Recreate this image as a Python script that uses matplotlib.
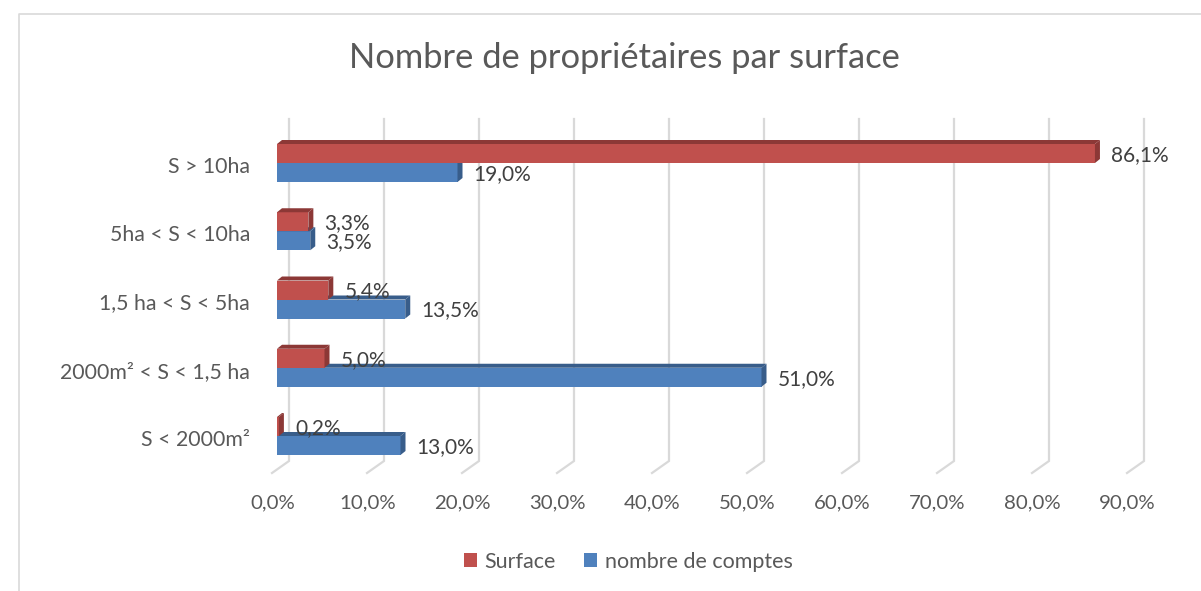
import matplotlib
matplotlib.use("Agg")
import matplotlib.pyplot as plt
from matplotlib.patches import Polygon, Patch, Rectangle
from matplotlib.lines import Line2D

# ---------------- data ----------------
categories = ["S < 2000m²", "2000m² < S < 1,5 ha", "1,5 ha < S < 5ha",
              "5ha < S < 10ha", "S > 10ha"]
surface = [0.2, 5.0, 5.4, 3.3, 86.1]
comptes = [13.0, 51.0, 13.5, 3.5, 19.0]
series_names = ["Surface", "nombre de comptes"]
xticks = [0, 10, 20, 30, 40, 50, 60, 70, 80, 90]
xtick_labels = ["0,0%", "10,0%", "20,0%", "30,0%", "40,0%", "50,0%",
                "60,0%", "70,0%", "80,0%", "90,0%"]
title = "Nombre de propriétaires par surface"

# ---------------- style ----------------
FONT = "Lato"
RED, RED_D = "#C0504D", "#8C3836"
BLUE, BLUE_D = "#4F81BD", "#385D8A"
GRID = "#D9D9D9"
TXT = "#595959"
LBL = "#404040"

W, H, DPI = 1201, 591, 100
fig = plt.figure(figsize=(W / DPI, H / DPI), dpi=DPI)

# axes geometry (pixels)
PX_X = 9.5          # px per percent
X0 = 277            # pixel of value 0 (bar front)
XMAX = 95
ROW = 68.25         # px per category
Y_TOP = 163 - ROW / 2
ax = fig.add_axes([X0 / W, 1 - (Y_TOP + ROW * 5) / H, PX_X * XMAX / W, ROW * 5 / H])
ax.set_xlim(0, XMAX)
ax.set_ylim(-0.5, 4.5)
ax.axis("off")

def px2x(p):
    return p / PX_X

def px2y(p):
    return p / ROW

# back-wall gridlines with floor diagonals
y_top = 4.5 + px2y(Y_TOP - 119)
y_bot = -0.5 + px2y(Y_TOP + ROW * 5 - 461)
y_front = -0.5 - px2y(473 - (Y_TOP + ROW * 5))
for p in xticks:
    xb = p + px2x(12)
    xf = p + px2x(-5)
    ax.add_line(Line2D([xb, xb, xf], [y_top, y_bot, y_front], color=GRID,
                       lw=1.6, clip_on=False, zorder=1, solid_joinstyle="miter"))

# x tick labels (front)
for p, lab in zip(xticks, xtick_labels):
    ax.text(p + px2x(-4.5), -0.5 - px2y(503 - (Y_TOP + ROW * 5)), lab,
            ha="center", va="center", fontsize=14.7, color=TXT, family=FONT,
            clip_on=False)

# category labels
for i, cat in enumerate(categories):
    ax.text(px2x(250 - X0), i - px2y(4), cat, ha="right", va="center",
            fontsize=15.3, color=TXT, family=FONT, clip_on=False)

bh = px2y(19)
dx, dy = px2x(5), px2y(4)

def bar3d(v, y0, front, dark, z):
    ax.add_patch(Rectangle((0, y0), v, bh, facecolor=front, edgecolor="none",
                           zorder=z, clip_on=False))
    ax.add_patch(Polygon([(0, y0 + bh), (v, y0 + bh), (v + dx, y0 + bh + dy),
                          (dx, y0 + bh + dy)], closed=True, facecolor=dark,
                         edgecolor="none", zorder=z, clip_on=False))
    ax.add_patch(Polygon([(v, y0), (v, y0 + bh), (v + dx, y0 + bh + dy),
                          (v + dx, y0 + dy)], closed=True, facecolor=dark,
                         edgecolor="none", zorder=z, clip_on=False))

def fmt(v):
    return f"{v:.1f}".replace(".", ",") + "%"

for i in range(len(categories)):
    bar3d(comptes[i], i - bh, BLUE, BLUE_D, 3 + i * 2)
    bar3d(surface[i], i, RED, RED_D, 4 + i * 2)

for i in range(len(categories)):
    ax.text(comptes[i] + px2x(16), i - bh / 2 - px2y(1.5), fmt(comptes[i]),
            ha="left", va="center", fontsize=15, color=LBL, family=FONT,
            zorder=20, clip_on=False)
    ax.text(surface[i] + px2x(16), i + bh / 2 - px2y(1.5), fmt(surface[i]),
            ha="left", va="center", fontsize=15, color=LBL, family=FONT,
            zorder=20, clip_on=False)

# title
fig.text(624 / W, 1 - 58 / H, title, ha="center", va="center", fontsize=24.8,
         color=TXT, family=FONT)

# legend
handles = [Patch(facecolor=RED, edgecolor="none"), Patch(facecolor=BLUE, edgecolor="none")]
leg = fig.legend(handles, series_names, loc="center", bbox_to_anchor=(628 / W, 1 - 562 / H),
                 ncol=2, frameon=False, handlelength=0.62, handleheight=0.62,
                 handletextpad=0.35, columnspacing=1.3,
                 prop={"family": FONT, "size": 15.5})
for t in leg.get_texts():
    t.set_color(TXT)

# chart border
fig.add_artist(Line2D([19 / W, 19 / W, 1], [0, 1 - 14 / H, 1 - 14 / H],
                      transform=fig.transFigure, color=GRID, lw=1.2))

fig.savefig("out.png", dpi=DPI)
